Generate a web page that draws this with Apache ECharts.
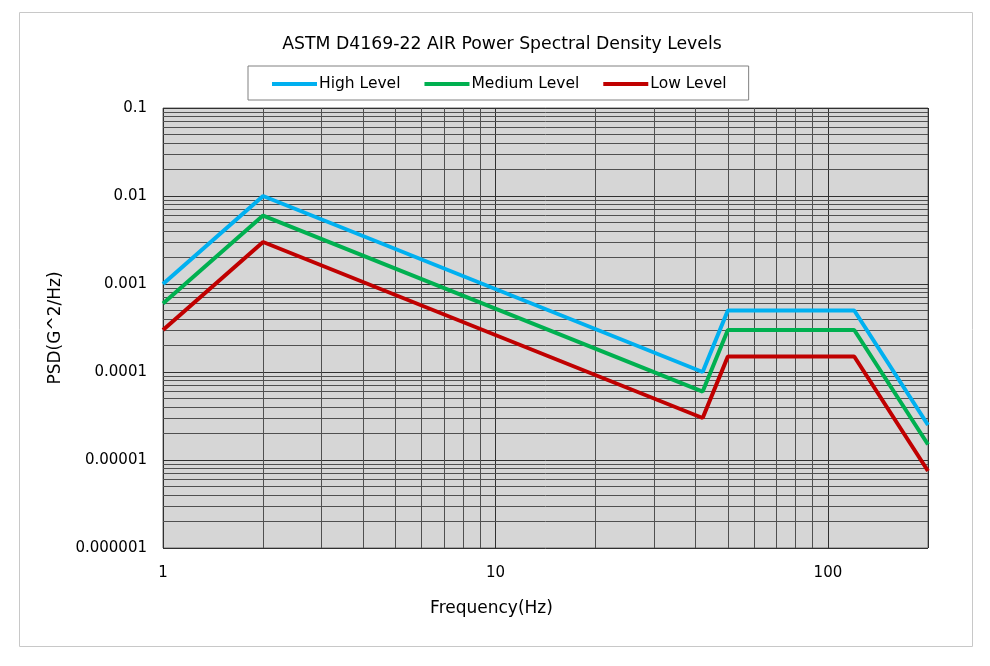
<!DOCTYPE html>
<html>
<head>
<meta charset="utf-8">
<script src="https://cdn.jsdelivr.net/npm/echarts@6/dist/echarts.min.js"></script>
<style>html,body{margin:0;padding:0;background:#fff}#c{width:990px;height:666px}</style>
</head>
<body>
<div id="c"></div>
<script>
const freq = [1, 2, 42, 50, 120, 200];
const highLevel = [0.001, 0.01, 0.0001, 0.0005, 0.0005, 0.000025];
const mediumLevel = [0.0006, 0.006, 0.00006, 0.0003, 0.0003, 0.000015];
const lowLevel = [0.0003, 0.003, 0.00003, 0.00015, 0.00015, 0.0000075];
const seriesNames = ['High Level', 'Medium Level', 'Low Level'];
const xTickLabels = ['1', '10', '100'];
const yTickLabels = ['0.000001', '0.00001', '0.0001', '0.001', '0.01', '0.1'];
const xMinorGrid = [2, 3, 4, 5, 6, 7, 8, 9, 20, 30, 40, 50, 60, 70, 80, 90];
const yMinorGrid = [];
[-6, -5, -4, -3, -2].forEach(e => { for (let m = 2; m <= 9; m++) yMinorGrid.push(+(m * Math.pow(10, e)).toPrecision(3)); });

const font = "'DejaVu Sans', sans-serif";
const chart = echarts.init(document.getElementById('c'), null, {renderer: 'canvas'});
const zip = arr => freq.map((f, i) => [f, arr[i]]);
const colors = ['#00b0f0', '#00b050', '#c00000'];
const vals = [highLevel, mediumLevel, lowLevel];

chart.setOption({
  animation: false,
  textStyle: {fontFamily: font},
  title: {
    text: 'ASTM D4169-22 AIR Power Spectral Density Levels',
    left: 497, top: 31, textAlign: 'center',
    textStyle: {fontFamily: font, fontSize: 17.3, fontWeight: 'normal', color: '#000'}
  },
  legend: {
    data: seriesNames.map(n => ({name: n, icon: 'rect'})),
    left: 248, top: 66, width: 520,
    padding: [10, 22, 8, 24],
    borderColor: '#808080', borderWidth: 1,
    itemWidth: 45, itemHeight: 4, itemGap: 24,
    textStyle: {fontFamily: font, fontSize: 15.5, color: '#000', padding: [0, 0, 0, -3]}
  },
  graphic: [{
    type: 'rect', silent: true, z: -10,
    shape: {x: 19.5, y: 12.5, width: 953, height: 634},
    style: {fill: 'none', stroke: '#c8c8c8', lineWidth: 1}
  }],
  grid: {
    left: 163, right: 62, top: 108, bottom: 118,
    show: true, backgroundColor: '#d6d6d6', borderColor: '#707070', borderWidth: 1
  },
  xAxis: {
    type: 'log', logBase: 10, min: 1, max: 200,
    name: 'Frequency(Hz)', nameLocation: 'middle', nameGap: 52,
    nameTextStyle: {fontFamily: font, fontSize: 17, color: '#000', padding: [0, 108, 0, 0]},
    axisLine: {show: false}, axisTick: {show: false},
    axisLabel: {
      fontFamily: font, fontSize: 15, color: '#000', margin: 18,
      formatter: v => { const e = Math.round(Math.log10(v)); return Math.abs(Math.log10(v) - e) < 1e-9 ? (xTickLabels[e] || '') : ''; }
    },
    splitLine: {show: true, lineStyle: {color: '#303030', width: 1}}
  },
  yAxis: {
    type: 'log', logBase: 10, min: 0.000001, max: 0.1,
    name: 'PSD(G^2/Hz)', nameLocation: 'middle', nameGap: 88, nameRotate: 90,
    nameTextStyle: {fontFamily: font, fontSize: 17, color: '#000'},
    axisLine: {show: false}, axisTick: {show: false},
    axisLabel: {
      fontFamily: font, fontSize: 15, color: '#000', margin: 16,
      formatter: v => { const e = Math.round(Math.log10(v)); return Math.abs(Math.log10(v) - e) < 1e-9 ? (yTickLabels[e + 6] || '') : ''; }
    },
    splitLine: {show: true, lineStyle: {color: '#303030', width: 1}}
  },
  series: [
    {
      type: 'line', name: 'grid-minor', data: [], z: 1, silent: true,
      markLine: {
        silent: true, symbol: 'none', animation: false, precision: 12,
        label: {show: false},
        lineStyle: {type: 'solid', color: '#505050', width: 1},
        emphasis: {disabled: true},
        data: xMinorGrid.map(v => ({xAxis: v})).concat(yMinorGrid.map(v => ({yAxis: v})))
      }
    }
  ].concat(seriesNames.map((n, i) => ({
    type: 'line', name: n, data: zip(vals[i]), z: 5,
    symbol: 'none', color: colors[i],
    lineStyle: {width: 4, color: colors[i]},
    itemStyle: {color: colors[i]}
  })))
});
</script>
</body>
</html>
